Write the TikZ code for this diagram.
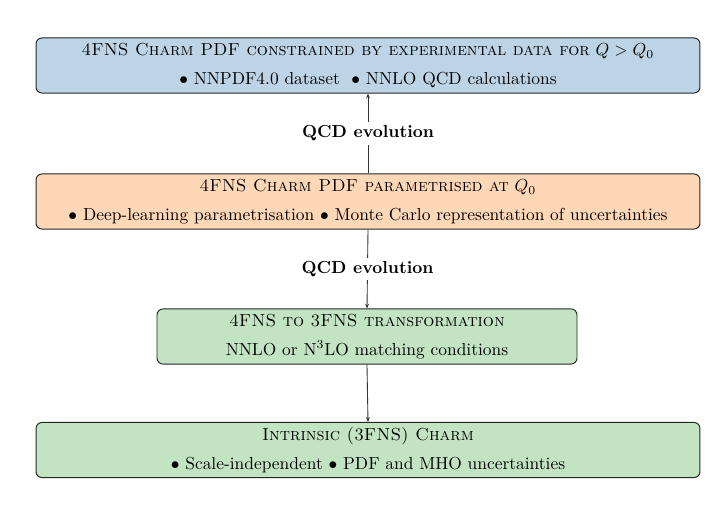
\documentclass[tikz,border=0pt]{standalone}
\usetikzlibrary{arrows.meta}
\definecolor{boxblue}{RGB}{188,212,230}
\definecolor{boxorange}{RGB}{254,215,183}
\definecolor{boxgreen}{RGB}{194,228,194}
\tikzset{
  stagebox/.style={draw=black!85, line width=0.55pt, rounded corners=3.4pt, align=center,
    minimum height=31.6pt, inner sep=0pt, font=\normalsize},
  conn/.style={draw=black!80, line width=0.5pt, -{Stealth[length=2.8pt,width=2.2pt]}},
  evlabel/.style={fill=white, font=\bfseries, inner sep=2pt}
}
\newcommand{\stitle}[1]{{#1}}
\begin{document}
\begin{tikzpicture}[x=0.574pt,y=-0.574pt]
\useasboundingbox (0,0) rectangle (724,505);
\node[stagebox, fill=boxblue, minimum width=381.1pt] (exp) at (368,65.5)
  {\stitle{\textsc{4FNS Charm PDF constrained by experimental data for} $Q>Q_0$}\\[4.5pt]
   $\bullet$ NNPDF4.0 dataset \ $\bullet$ NNLO QCD calculations};
\node[stagebox, fill=boxorange, minimum width=381.1pt] (par) at (368,201.5)
  {\stitle{\textsc{4FNS Charm PDF parametrised at} $Q_0$}\\[4.5pt]
   $\bullet$ Deep-learning parametrisation $\bullet$ Monte Carlo representation of uncertainties};
\node[stagebox, fill=boxgreen, minimum width=241.1pt] (trf) at (367,336.5)
  {\stitle{\textsc{4FNS to 3FNS transformation}}\\[4.5pt]
   NNLO or N$^3$LO matching conditions};
\node[stagebox, fill=boxgreen, minimum width=381.1pt] (ic) at (368,450)
  {\stitle{\textsc{Intrinsic (3FNS) Charm}}\\[4.5pt]
   $\bullet$ Scale-independent $\bullet$ PDF and MHO uncertainties};
\draw[conn] (par.north) -- node[evlabel] (l1) {QCD evolution} (exp.south);
\draw[conn] (par.south) -- node[evlabel] (l2) {QCD evolution} (trf.north);
\draw[conn] (trf.south) -- (ic.north);
\end{tikzpicture}
\end{document}
